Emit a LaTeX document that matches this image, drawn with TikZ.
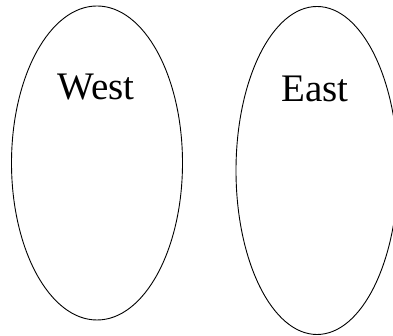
\documentclass[tikz,border=0pt]{standalone}
\usepackage{fontspec}
\setmainfont{Liberation Serif}
\usetikzlibrary{shapes.geometric}
\begin{document}
\begin{tikzpicture}[x=1pt,y=1pt,
  region/.style={ellipse, draw, line width=0.9pt, inner sep=0pt},
  regionlabel/.style={anchor=base, inner sep=0pt, font=\fontsize{39}{40}\selectfont}]
\useasboundingbox (0,0) rectangle (393,336);
% two regions
\node[region, minimum width=171pt, minimum height=314pt] (west) at (97,173) {};
\node[region, minimum width=162pt, minimum height=328pt] (east) at (317,165.5) {};
% labels
\node[regionlabel] (westlabel) at (96,236) {West};
\node[regionlabel] (eastlabel) at (315,234) {East};
\end{tikzpicture}
\end{document}
